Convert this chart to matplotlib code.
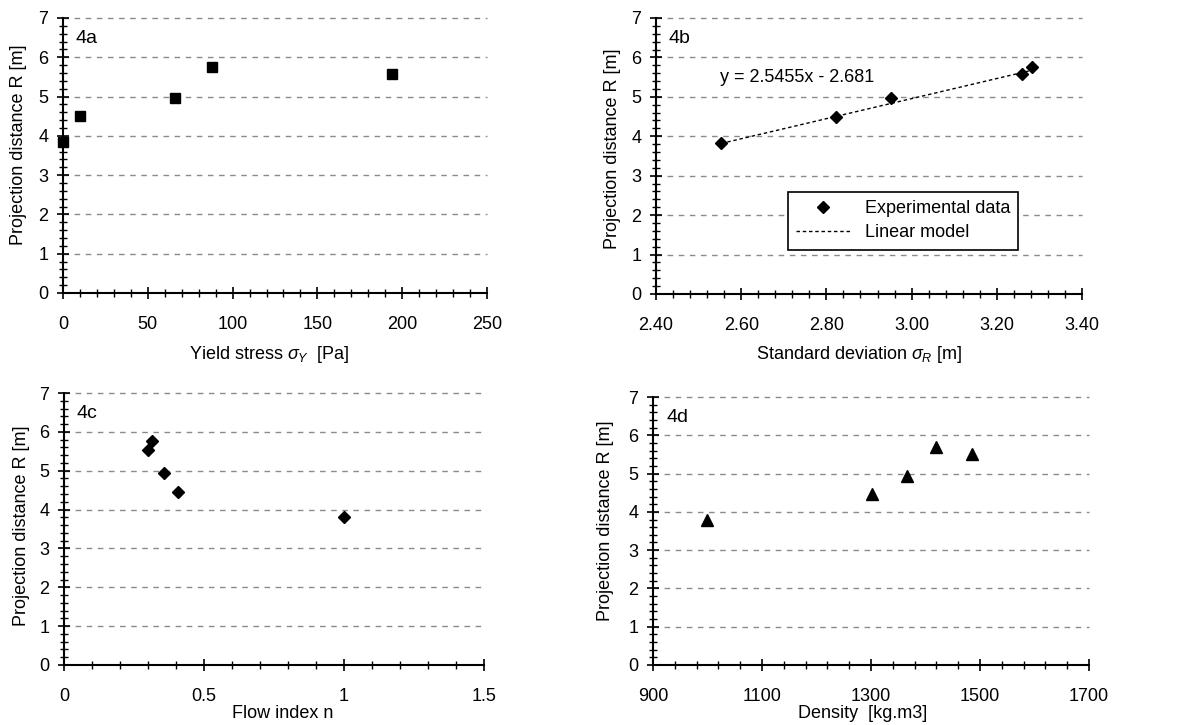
import matplotlib
matplotlib.use("Agg")
import matplotlib.pyplot as plt
from matplotlib.ticker import MultipleLocator, FormatStrFormatter, FuncFormatter
import numpy as np

plt.rcParams['font.family'] = ['Liberation Sans', 'DejaVu Sans']
plt.rcParams['mathtext.fontset'] = 'custom'
plt.rcParams['mathtext.rm'] = 'Liberation Sans'
plt.rcParams['mathtext.it'] = 'Liberation Sans:italic'

# ---- data ----
R_values = [3.84, 4.50, 4.96, 5.75, 5.57]
yield_stress = [0, 10, 66, 88, 194]
std_dev = [2.553, 2.823, 2.952, 3.283, 3.258]
R_std = [3.84, 4.50, 4.96, 5.75, 5.57]
flow_index = [1.0, 0.406, 0.357, 0.313, 0.299]
R_flow = [3.80, 4.46, 4.94, 5.76, 5.54]
density = [1000, 1302, 1366, 1419, 1485]
R_density = [3.79, 4.46, 4.94, 5.69, 5.50]
slope, intercept = 2.5455, -2.681

y_label = "Projection distance R [m]"
FS = 13

fig = plt.figure(figsize=(11.78, 7.25), dpi=100)

def style(ax, xlim, major, minor, tag, xlabel, xlab_pos, ylab_pos, xtickfmt):
    ax.set_xlim(*xlim)
    ax.set_ylim(0, 7)
    ax.xaxis.set_major_locator(major)
    ax.xaxis.set_minor_locator(minor)
    ax.yaxis.set_major_locator(MultipleLocator(1))
    ax.yaxis.set_minor_locator(MultipleLocator(0.2))
    ax.xaxis.set_major_formatter(xtickfmt)
    for s in ['top', 'right']:
        ax.spines[s].set_visible(False)
    for s in ['left', 'bottom']:
        ax.spines[s].set_linewidth(1.5)
        ax.spines[s].set_color('black')
    ax.tick_params(which='major', direction='inout', length=9, width=1.2,
                   labelsize=FS, colors='black')
    ax.tick_params(which='minor', direction='inout', length=6, width=1.0)
    ax.tick_params(axis='x', which='major', pad=12)
    ax.tick_params(axis='y', which='major', pad=6)
    for yv in range(1, 8):
        ax.axhline(yv, color='#8a8a8a', lw=1.0, ls=(0, (4, 4)), zorder=0, clip_on=False)
    ax.text(0.03, 0.925, tag, transform=ax.transAxes, fontsize=14,
            ha='left', va='center')
    ax.set_xlabel(xlabel, fontsize=FS)
    ax.set_ylabel(y_label, fontsize=FS)
    ax.xaxis.label.set_va('center')
    ax.yaxis.label.set_va('center')
    ax.xaxis.set_label_coords(*xlab_pos)
    ax.yaxis.set_label_coords(*ylab_pos)
    ax.set_facecolor('white')

# 4a
axa = fig.add_axes([0.0535, 0.5959, 0.3599, 0.3793])
axa.plot(yield_stress, R_values, ls='none', marker='s', ms=7.5, color='black', clip_on=False, zorder=3)
style(axa, (0, 250), MultipleLocator(50), MultipleLocator(10), '4a',
      r"Yield stress $\sigma_Y$  [Pa]",
      (0.486, -0.225), (-0.106, 0.538), FormatStrFormatter('%d'))

# 4b
axb = fig.add_axes([0.5569, 0.5945, 0.3616, 0.3807])
xfit = np.array([min(std_dev), max(std_dev)])
axb.plot(xfit, slope * xfit + intercept, color='black', lw=1.0, ls=(0, (2.5, 2)), label='Linear model', zorder=2)
axb.plot(std_dev, R_std, ls='none', marker='D', ms=6.5, color='black', label='Experimental data', zorder=3)
style(axb, (2.40, 3.40), MultipleLocator(0.2), MultipleLocator(0.04), '4b',
      r"Standard deviation $\sigma_R$ [m]",
      (0.477, -0.221), (-0.103, 0.525), FormatStrFormatter('%.2f'))
axb.text(0.15, 0.786, "y = 2.5455x - 2.681", transform=axb.transAxes,
         fontsize=FS, ha='left', va='center')
h, l = axb.get_legend_handles_labels()
leg = axb.legend([h[1], h[0]], [l[1], l[0]], loc='upper left',
                 bbox_to_anchor=(0.289, 0.402), fontsize=FS, frameon=True,
                 fancybox=False, edgecolor='black', framealpha=1,
                 borderpad=0.45, handlelength=3.0, labelspacing=0.4)
leg.get_frame().set_linewidth(1.2)

# 4c
axc = fig.add_axes([0.0543, 0.0828, 0.3566, 0.3751])
axc.plot(flow_index, R_flow, ls='none', marker='D', ms=6.5, color='black', zorder=3)
def fmt_c(v, pos):
    s = '%.1f' % v
    return s[:-2] if s.endswith('.0') else s
style(axc, (0, 1.5), MultipleLocator(0.5), MultipleLocator(0.1), '4c', "Flow index n",
      (0.52, -0.178), (-0.10, 0.511), FuncFormatter(fmt_c))

# 4d
axd = fig.add_axes([0.5543, 0.0828, 0.3701, 0.3696])
axd.plot(density, R_density, ls='none', marker='^', ms=8, color='black', zorder=3)
style(axd, (900, 1700), MultipleLocator(200, offset=100), MultipleLocator(40, offset=20), '4d',
      "Density  [kg.m3]",
      (0.48, -0.18), (-0.11, 0.54), FormatStrFormatter('%d'))

fig.savefig('out.png', dpi=100, facecolor='white')
